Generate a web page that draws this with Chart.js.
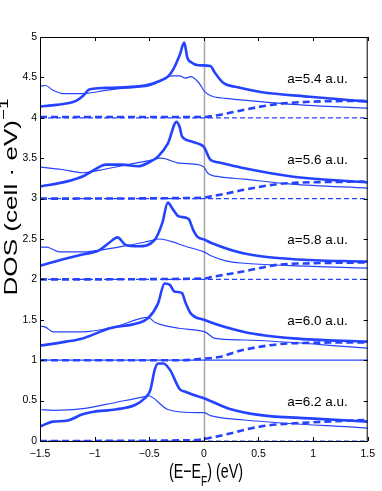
<!DOCTYPE html>
<html>
<head>
<meta charset="utf-8">
<script src="https://cdn.jsdelivr.net/npm/chart.js@4.4.1/dist/chart.umd.min.js"></script>
<style>
  html, body { margin: 0; padding: 0; background: #fff; }
  #wrap { width: 382px; height: 491px; }
</style>
</head>
<body>
<div id="wrap"><canvas id="dosChart"></canvas></div>
<script>
// tick values
const xTicks = [-1.5, -1, -0.5, 0, 0.5, 1, 1.5];
const yTicks = [0, 0.5, 1, 1.5, 2, 2.5, 3, 3.5, 4, 4.5, 5];

// one panel per lattice constant, shifted up by an offset
const latticeLabels = ['a=5.4 a.u.', 'a=5.6 a.u.', 'a=5.8 a.u.', 'a=6.0 a.u.', 'a=6.2 a.u.'];
const baselines = [4, 3, 2, 1, 0];

// [E - EF, DOS] (offset already included)
const dosThick54 = [[-1.5,4.14],[-1.35,4.16],[-1.25,4.18],[-1.17,4.21],[-1.1,4.28],[-1.05,4.35],[-0.9,4.37],[-0.7,4.38],[-0.51,4.41],[-0.4,4.46],[-0.33,4.51],[-0.28,4.6],[-0.22,4.78],[-0.18,4.93],[-0.15,4.74],[-0.12,4.69],[-0.05,4.65],[0.06,4.64],[0.1,4.56],[0.18,4.43],[0.3,4.38],[0.52,4.32],[0.97,4.26],[1.5,4.2]];
const dosThin54 = [[-1.5,4.39],[-1.45,4.40],[-1.38,4.34],[-1.29,4.30],[-1.1,4.30],[-0.9,4.34],[-0.7,4.37],[-0.51,4.39],[-0.4,4.45],[-0.3,4.52],[-0.22,4.52],[-0.17,4.49],[-0.12,4.51],[-0.05,4.44],[0.01,4.32],[0.07,4.27],[0.2,4.24],[0.52,4.2],[1.0,4.15],[1.5,4.12]];
const dosDash54 = [[-1.5,4.01],[0,4.01],[0.07,4.02],[0.2,4.05],[0.37,4.10],[0.67,4.17],[1.0,4.20],[1.5,4.21]];

const dosThick56 = [[-1.5,3.15],[-1.26,3.21],[-1.1,3.28],[-0.96,3.39],[-0.9,3.42],[-0.75,3.42],[-0.6,3.40],[-0.5,3.45],[-0.42,3.52],[-0.33,3.68],[-0.25,3.95],[-0.22,3.88],[-0.2,3.77],[-0.12,3.71],[-0.05,3.68],[0,3.64],[0.06,3.48],[0.13,3.45],[0.37,3.375],[0.82,3.27],[1.5,3.20]];
const dosThin56 = [[-1.5,3.39],[-1.3,3.36],[-1.11,3.32],[-0.96,3.35],[-0.7,3.42],[-0.5,3.47],[-0.39,3.50],[-0.23,3.44],[-0.05,3.42],[0,3.39],[0.04,3.31],[0.15,3.27],[0.37,3.24],[0.8,3.18],[1.5,3.13]];
const dosDash56 = [[-1.5,3.0],[0,3.01],[0.07,3.03],[0.2,3.06],[0.37,3.11],[0.76,3.19],[1.5,3.21]];

const dosThick58 = [[-1.5,2.17],[-1.26,2.26],[-1.1,2.31],[-0.96,2.36],[-0.87,2.45],[-0.79,2.52],[-0.72,2.43],[-0.6,2.41],[-0.45,2.49],[-0.38,2.7],[-0.33,2.95],[-0.28,2.86],[-0.23,2.78],[-0.14,2.75],[-0.1,2.62],[-0.06,2.53],[0.01,2.49],[0.07,2.45],[0.37,2.32],[0.82,2.25],[1.5,2.22]];
const dosThin58 = [[-1.5,2.40],[-1.44,2.40],[-1.32,2.34],[-1.1,2.34],[-0.96,2.36],[-0.7,2.42],[-0.51,2.47],[-0.4,2.5],[-0.3,2.47],[-0.17,2.41],[0,2.34],[0.07,2.29],[0.2,2.23],[0.37,2.2],[0.8,2.17],[1.5,2.14]];
const dosDash58 = [[-1.5,2.0],[0,2.01],[0.07,2.03],[0.37,2.10],[0.67,2.18],[1.0,2.20],[1.5,2.21]];

const dosThick60 = [[-1.5,1.18],[-1.26,1.23],[-1.11,1.27],[-0.86,1.395],[-0.6,1.46],[-0.51,1.52],[-0.42,1.70],[-0.36,1.95],[-0.31,1.93],[-0.27,1.85],[-0.2,1.83],[-0.17,1.72],[-0.12,1.58],[0,1.50],[0.37,1.35],[0.82,1.27],[1.5,1.23]];
const dosThin60 = [[-1.5,1.42],[-1.45,1.41],[-1.38,1.35],[-1.11,1.35],[-0.8,1.42],[-0.51,1.53],[-0.45,1.47],[-0.23,1.395],[0.01,1.35],[0.1,1.27],[0.37,1.25],[1.5,1.15]];
const dosDash60 = [[-1.5,1.0],[-0.2,1.0],[0,1.02],[0.14,1.04],[0.37,1.13],[0.82,1.21],[1.5,1.22]];

const dosThick62 = [[-1.5,0.18],[-1.38,0.24],[-1.26,0.25],[-1.11,0.33],[-1.02,0.36],[-0.81,0.39],[-0.63,0.445],[-0.54,0.53],[-0.49,0.63],[-0.45,0.88],[-0.42,0.96],[-0.37,0.96],[-0.31,0.88],[-0.22,0.64],[-0.17,0.61],[-0.05,0.55],[0,0.53],[0.23,0.40],[0.52,0.32],[0.97,0.28],[1.5,0.24]];
const dosThin62 = [[-1.5,0.39],[-1.38,0.38],[-1.11,0.4],[-0.8,0.48],[-0.54,0.55],[-0.51,0.56],[-0.33,0.39],[-0.05,0.35],[0,0.35],[0.07,0.31],[0.37,0.26],[1.5,0.16]];
const dosDash62 = [[-1.5,0.0],[-0.1,0.01],[0,0.025],[0.23,0.09],[0.52,0.18],[0.97,0.23],[1.5,0.26]];

const thickSets = [dosThick54, dosThick56, dosThick58, dosThick60, dosThick62];
const thinSets = [dosThin54, dosThin56, dosThin58, dosThin60, dosThin62];
const dashSets = [dosDash54, dosDash56, dosDash58, dosDash60, dosDash62];

const BLUE = '#2543ff';
const NARROW = '"Liberation Sans Narrow", "Liberation Sans", Arial, sans-serif';
const SANS = '"Liberation Sans", Arial, sans-serif';

const toPts = arr => arr.map(p => ({ x: p[0], y: p[1] }));

function line(data, width, dash) {
  return {
    data: toPts(data),
    borderColor: BLUE,
    borderWidth: width,
    borderDash: dash,
    pointRadius: 0,
    fill: false,
    cubicInterpolationMode: 'monotone',
  };
}

const datasets = [];
baselines.forEach((b, i) => {
  // thin dashed baseline (panel a=6.0 looks solid)
  datasets.push(line([[xTicks[0], b], [xTicks[xTicks.length - 1], b]], 1.2, i === 3 ? [] : [5, 3]));
  datasets.push(line(thinSets[i], 1.2, []));
  datasets.push(line(dashSets[i], 2.6, [7, 4]));
  datasets.push(line(thickSets[i], 2.6, []));
});

function fmt(v) {
  return v < 0 ? '\u2212' + Math.abs(v) : String(v);
}

// draws pieces of text squeezed/stretched along the baseline
function drawPieces(ctx, pieces, sx) {
  let total = 0;
  pieces.forEach(p => { ctx.font = p.font; p.w = ctx.measureText(p.text).width; total += p.w; });
  let cx = -total / 2;
  ctx.scale(sx, 1);
  pieces.forEach(p => {
    ctx.font = p.font;
    ctx.fillText(p.text, cx, p.dy || 0);
    cx += p.w;
  });
}

const framePlugin = {
  id: 'frame',
  beforeDatasetsDraw(chart) {
    const { ctx, chartArea: a, scales: { x } } = chart;
    const x0 = Math.round(x.getPixelForValue(0)) + 0.5;
    ctx.save();
    ctx.strokeStyle = '#ababab';
    ctx.lineWidth = 1.6;
    ctx.beginPath();
    ctx.moveTo(x0, a.top);
    ctx.lineTo(x0, a.bottom);
    ctx.stroke();
    ctx.restore();
  },
  afterDraw(chart) {
    const { ctx, chartArea: a, scales: { x, y } } = chart;
    ctx.save();
    ctx.strokeStyle = '#000';
    ctx.lineWidth = 1;
    ctx.strokeRect(a.left + 0.5, a.top + 0.5, a.right - a.left - 1, a.bottom - a.top);
    ctx.beginPath();
    xTicks.forEach(v => {
      const px = Math.round(x.getPixelForValue(v)) + 0.5;
      ctx.moveTo(px, a.bottom); ctx.lineTo(px, a.bottom - 4);
      ctx.moveTo(px, a.top); ctx.lineTo(px, a.top + 4);
    });
    yTicks.forEach(v => {
      const py = Math.round(y.getPixelForValue(v)) + 0.5;
      ctx.moveTo(a.left, py); ctx.lineTo(a.left + 4, py);
      ctx.moveTo(a.right, py); ctx.lineTo(a.right - 4, py);
    });
    ctx.stroke();

    // panel labels
    ctx.fillStyle = '#000';
    ctx.textAlign = 'left';
    ctx.textBaseline = 'middle';
    ctx.font = '13.5px ' + NARROW;
    latticeLabels.forEach((t, i) => {
      const w = ctx.measureText(t).width;
      ctx.fillText(t, x.getPixelForValue(1.04) - w / 2, y.getPixelForValue(baselines[i] + 0.48));
    });

    // x axis title
    ctx.textBaseline = 'alphabetic';
    ctx.save();
    ctx.translate(206, 478);
    drawPieces(ctx, [
      { text: '(E\u2212E', font: '21px ' + SANS },
      { text: 'F', font: '15px ' + SANS, dy: 8 },
      { text: ') (eV)', font: '21px ' + SANS },
    ], 0.68);
    ctx.restore();

    // y axis title
    ctx.save();
    ctx.translate(17, 197);
    ctx.rotate(-Math.PI / 2);
    drawPieces(ctx, [
      { text: 'DOS (cell \u00b7 eV)', font: '18px ' + SANS },
      { text: '\u22121', font: '13px ' + SANS, dy: -9 },
    ], 1.45);
    ctx.restore();
    ctx.restore();
  }
};

new Chart(document.getElementById('dosChart'), {
  type: 'line',
  data: { datasets },
  options: {
    responsive: true,
    maintainAspectRatio: false,
    animation: false,
    layout: { padding: { top: 37, right: 10, left: 0, bottom: 0 } },
    plugins: {
      legend: { display: false },
      tooltip: { enabled: false },
    },
    scales: {
      x: {
        type: 'linear',
        min: -1.5,
        max: 1.5,
        afterFit: s => { s.height = 50; },
        afterBuildTicks: s => { s.ticks = xTicks.map(v => ({ value: v })); },
        ticks: { callback: fmt, color: '#000', padding: 7, maxRotation: 0, font: { family: NARROW, size: 10.5 } },
        grid: { display: false, drawTicks: false },
        border: { display: false },
      },
      y: {
        type: 'linear',
        min: 0,
        max: 5,
        afterFit: s => { s.width = 40; },
        afterBuildTicks: s => { s.ticks = yTicks.map(v => ({ value: v })); },
        ticks: { callback: fmt, color: '#000', padding: 3, font: { family: NARROW, size: 10.5 } },
        grid: { display: false, drawTicks: false },
        border: { display: false },
      },
    },
  },
  plugins: [framePlugin],
});
</script>
</body>
</html>
